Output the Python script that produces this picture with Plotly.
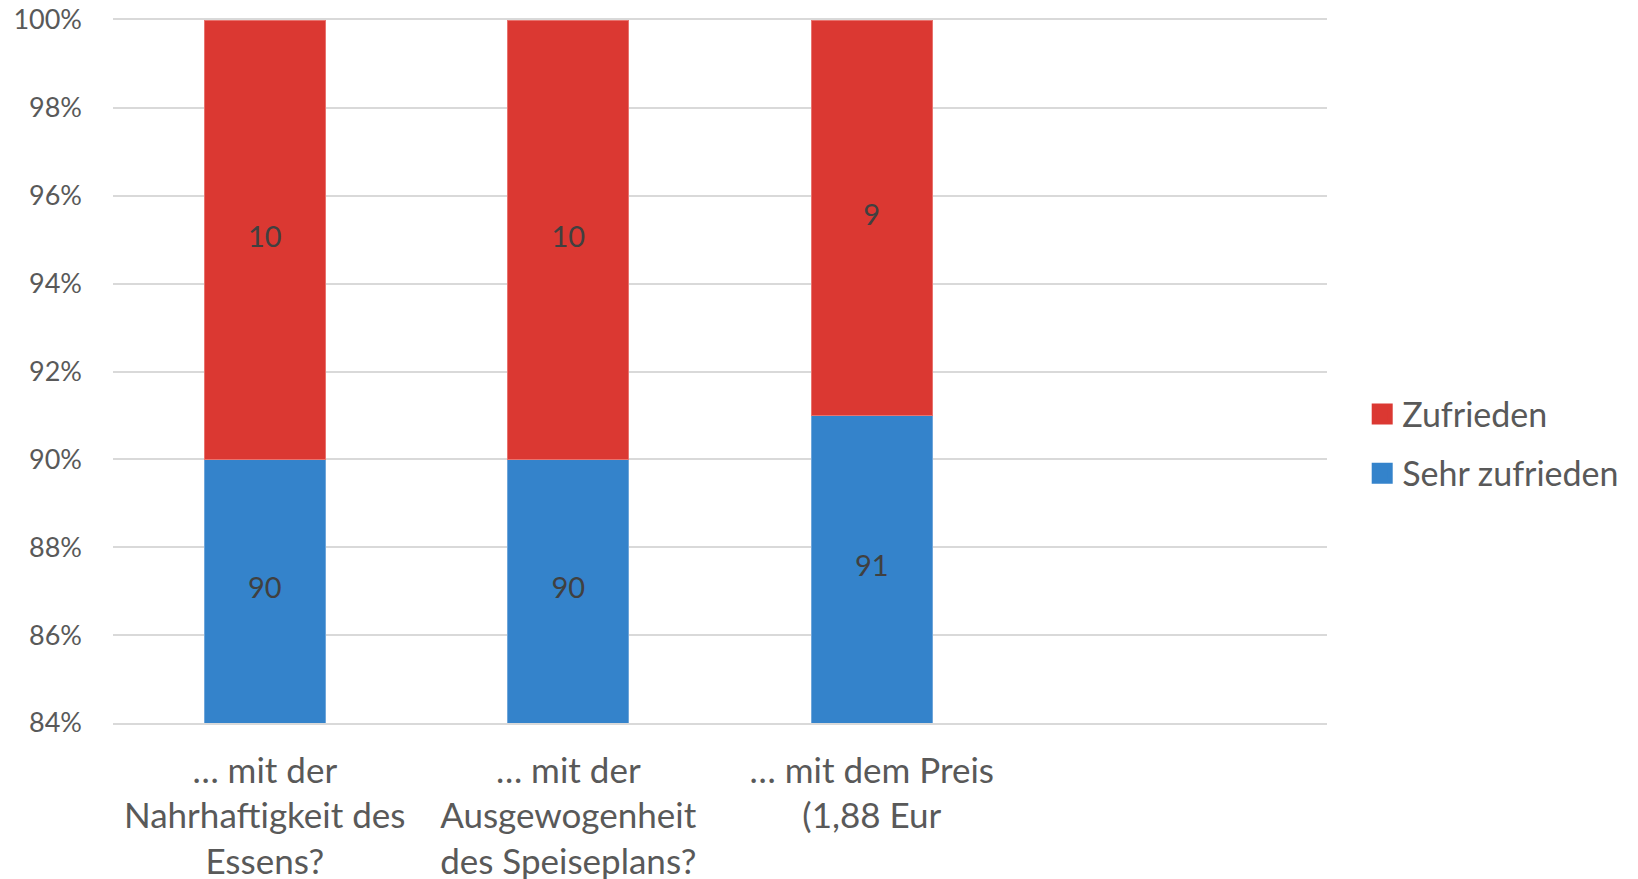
import plotly.graph_objects as go

categories = ["… mit der<br>Nahrhaftigkeit des<br>Essens?",
              "… mit der<br>Ausgewogenheit<br>des Speiseplans?",
              "… mit dem Preis<br>(1,88 Eur"]
sehr_zufrieden = [90, 90, 91]
zufrieden = [10, 10, 9]
y_min, y_max = 84, 100
y_ticks = [84, 86, 88, 90, 92, 94, 96, 98, 100]

RED = "#DB3832"
BLUE = "#3483CB"
FONT = "Lato"

fig = go.Figure()
fig.add_trace(go.Bar(x=categories, y=sehr_zufrieden, name="Sehr zufrieden",
                     marker=dict(color=BLUE, line=dict(color="#6FA6DA", width=1)),
                     showlegend=False, hoverinfo="skip"))
fig.add_trace(go.Bar(x=categories, y=zufrieden, name="Zufrieden",
                     marker=dict(color=RED, line=dict(color="#E8736E", width=1)),
                     showlegend=False, hoverinfo="skip"))

# data labels, centered on the visible part of each segment
blue_mid = [(max(y_min, 0) + v) / 2 for v in sehr_zufrieden]
red_mid = [(a + min(a + b, y_max)) / 2 for a, b in zip(sehr_zufrieden, zufrieden)]
fig.add_trace(go.Scatter(x=categories, y=blue_mid, mode="text",
                         text=[str(v) for v in sehr_zufrieden],
                         textfont=dict(family=FONT, size=29, color="#404040"),
                         showlegend=False, hoverinfo="skip"))
fig.add_trace(go.Scatter(x=categories, y=red_mid, mode="text",
                         text=[str(v) for v in zufrieden],
                         textfont=dict(family=FONT, size=29, color="#404040"),
                         showlegend=False, hoverinfo="skip"))

# legend entries
fig.add_trace(go.Scatter(x=[None], y=[None], mode="markers", name="Zufrieden",
                         marker=dict(symbol="square", size=16, color=RED,
                                     line=dict(color=RED, width=5)),
                         legendgroup="a"))
fig.add_trace(go.Scatter(x=[None], y=[None], mode="markers", name="Sehr zufrieden",
                         marker=dict(symbol="square", size=16, color=BLUE,
                                     line=dict(color=BLUE, width=5)),
                         legendgroup="b"))

fig.update_layout(
    width=1638, height=879,
    margin=dict(l=113, r=311, t=20, b=156, autoexpand=False),
    paper_bgcolor="white", plot_bgcolor="white",
    barmode="stack", bargap=0.6,
    font=dict(family=FONT, color="#595959"),
    legend=dict(x=1.029, xanchor="left", y=0.397, yanchor="middle",
                font=dict(family=FONT, size=34, color="#595959"),
                traceorder="grouped", tracegroupgap=12,
                itemsizing="trace"),
    xaxis=dict(type="category", range=[-0.5, 3.5], showgrid=False,
               showline=True, mirror=True, linecolor="#D9D9D9", linewidth=1.5,
               ticks="", zeroline=False, automargin=False,
               tickfont=dict(family=FONT, size=35, color="#595959"),
               ticklabelstandoff=16),
    yaxis=dict(range=[y_min, y_max], tickvals=y_ticks,
               ticktext=[f"{t}%" for t in y_ticks], automargin=False,
               showgrid=True, gridcolor="#D9D9D9", gridwidth=1.5,
               zeroline=False, showline=False, ticks="",
               tickfont=dict(family=FONT, size=27, color="#595959"),
               ticklabelstandoff=30),
)

fig.write_html("out.html",
               config={"displayModeBar": False},
               post_script="document.body.style.margin='0';")
